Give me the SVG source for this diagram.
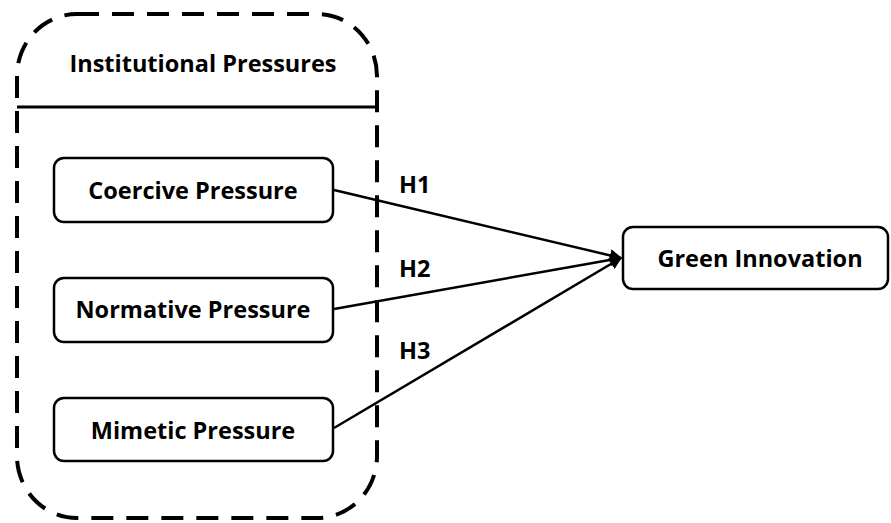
<svg xmlns="http://www.w3.org/2000/svg" width="891" height="523" viewBox="0 0 891 523">
<style>
.box{fill:#fff;stroke:#000;stroke-width:2.5}
.lbl{font-family:"Open Sans","Noto Sans","Liberation Sans",sans-serif;font-weight:bold;font-size:23.5px;fill:#000}
.edge{stroke:#000;stroke-width:2.5;fill:none}
</style>
<defs>
<marker id="arr" viewBox="0 0 10 10" refX="9" refY="5" markerWidth="5" markerHeight="5" orient="auto" markerUnits="strokeWidth">
<path d="M0,0 L10,5 L0,10 z" fill="#000"/>
</marker>
</defs>
<rect width="891" height="523" fill="#fff"/>
<g id="group-institutional">
<rect x="17" y="14" width="360" height="504" rx="60" ry="62" fill="none" stroke="#000" stroke-width="4" stroke-dasharray="22 13"/>
<line x1="17" y1="107" x2="377" y2="107" stroke="#000" stroke-width="3"/>
<text class="lbl" x="203" y="72" text-anchor="middle">Institutional Pressures</text>
</g>
<g id="node-coercive">
<rect class="box" x="54" y="158" width="279" height="64" rx="10"/>
<text class="lbl" x="193" y="199" text-anchor="middle">Coercive Pressure</text>
</g>
<g id="node-normative">
<rect class="box" x="54" y="278" width="279" height="64" rx="10"/>
<text class="lbl" x="193" y="318" text-anchor="middle">Normative Pressure</text>
</g>
<g id="node-mimetic">
<rect class="box" x="54" y="398" width="279" height="63" rx="10"/>
<text class="lbl" x="193" y="439" text-anchor="middle">Mimetic Pressure</text>
</g>
<g id="node-green">
<rect class="box" x="623" y="227" width="265" height="62" rx="10"/>
<text class="lbl" x="760" y="267" text-anchor="middle">Green Innovation</text>
</g>
<g id="connectors">
<line class="edge" x1="334" y1="190" x2="621" y2="258" marker-end="url(#arr)"/>
<line class="edge" x1="334" y1="309" x2="621" y2="258" marker-end="url(#arr)"/>
<line class="edge" x1="334" y1="428" x2="621" y2="258" marker-end="url(#arr)"/>
<text class="lbl" x="399" y="193">H1</text>
<text class="lbl" x="399" y="277">H2</text>
<text class="lbl" x="399" y="359">H3</text>
</g>
</svg>
